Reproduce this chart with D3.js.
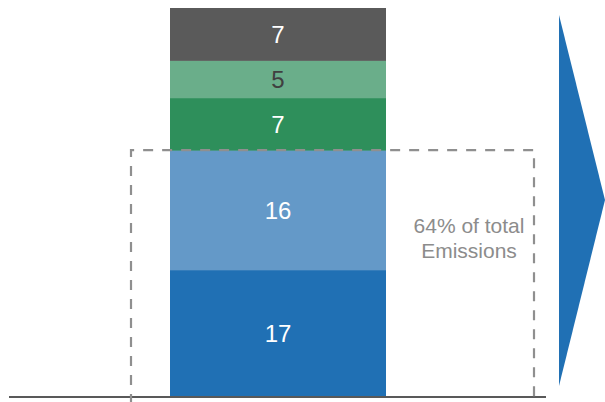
<!DOCTYPE html>
<html><head><meta charset="utf-8">
<script src="https://cdn.jsdelivr.net/npm/d3@7"></script>
<style>html,body{margin:0;padding:0;background:#fff;}svg{display:block;}</style>
</head><body>
<svg id="c" width="605" height="402"></svg>
<script>
const categories = ["Seg1","Seg2","Seg3","Seg4","Seg5"];
const values = [17, 16, 7, 5, 7];
const colors = ["#2070b4","#6499c8","#2e8f5b","#6aae8a","#5a5a5a"];
const labelColors = ["#ffffff","#ffffff","#ffffff","#404040","#ffffff"];
const noteLines = ["64% of total","Emissions"];
const highlightCount = 2;

const svg = d3.select("#c");
const total = d3.sum(values);
const y = d3.scaleLinear().domain([0, total]).range([397, 8]);
const x = d3.scaleBand().domain(["bar"]).range([170, 386]).padding(0);

let cum = 0;
const stack = values.map((v,i)=>{const s={v,i,y0:cum,y1:cum+v};cum+=v;return s;});

svg.selectAll("rect.seg").data(stack).enter().append("rect")
  .attr("class","seg")
  .attr("x", x("bar")).attr("width", x.bandwidth())
  .attr("y", d=>y(d.y1)).attr("height", d=>y(d.y0)-y(d.y1)+0.5)
  .attr("fill", d=>colors[d.i]);

svg.selectAll("text.lab").data(stack).enter().append("text")
  .attr("x", x("bar")+x.bandwidth()/2)
  .attr("y", d=>(y(d.y0)+y(d.y1))/2)
  .attr("dy","0.36em")
  .attr("text-anchor","middle")
  .attr("font-family","'Liberation Sans', Arial, sans-serif")
  .attr("font-size", 24)
  .attr("fill", d=>labelColors[d.i])
  .text(d=>d.v);

// baseline
svg.append("line").attr("x1",9).attr("x2",546).attr("y1",y(0)).attr("y2",y(0))
  .attr("stroke","#595959").attr("stroke-width",2);

// dashed highlight box
const hiTop = y(d3.sum(values.slice(0,highlightCount)));
svg.append("path")
  .attr("d", `M131,404 L131,${hiTop} L534,${hiTop} L534,404`)
  .attr("fill","none").attr("stroke","#8f8f8f").attr("stroke-width",2.2)
  .attr("stroke-dasharray","10,9");

svg.append("text")
  .attr("x",469).attr("y",233)
  .attr("text-anchor","middle")
  .attr("font-family","'Liberation Sans', Arial, sans-serif")
  .attr("font-size",21).attr("fill","#8c8c8c")
  .selectAll("tspan").data(noteLines).enter().append("tspan")
  .attr("x",469).attr("dy",(d,i)=>i?25:0).text(d=>d);

// arrow
svg.append("path").attr("d","M559,15 L605,200 L559,386 Z").attr("fill","#2070b4");
</script>
</body></html>
